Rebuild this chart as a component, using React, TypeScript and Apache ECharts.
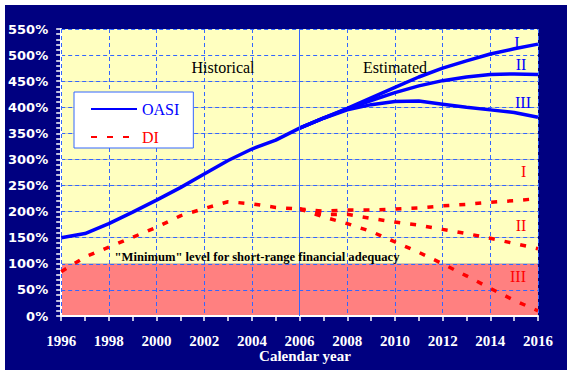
import React, { useEffect, useRef } from "react";
import * as echarts from "echarts";

// ---- data ----
const histYears = [1996, 1997, 1998, 1999, 2000, 2001, 2002, 2003, 2004, 2005, 2006];
const oasiHist = [150, 158, 177, 199, 222, 246, 272, 298, 320, 337, 360];
const diHist = [85, 113, 132, 151, 170, 192, 206, 219, 215, 208, 205];

const projYears = [2006, 2007, 2008, 2009, 2010, 2011, 2012, 2013, 2014, 2015, 2016];
const oasiI = [360, 379, 398, 418, 438, 458, 475, 489, 502, 512, 521];
const oasiII = [360, 379, 397, 413, 428, 441, 451, 458, 463, 464, 463];
const oasiIII = [360, 379, 395, 405, 411, 412, 406, 400, 395, 390, 381];
const diI = [205, 201, 203, 203, 205, 207, 211, 214, 218, 221, 225];
const diII = [205, 194, 195, 187, 180, 174, 166, 158, 149, 139, 129];
const diIII = [205, 190, 177, 162, 142, 122, 100, 77, 53, 30, 10];

const yTickMax = 550;
const yTickStep = 50;
const minimumLevel = 100;
const boundaryYear = 2006;

const pair = (xs: number[], ys: number[]) => xs.map((x, i) => [x, ys[i]]);

const BLUE = "#0000FF";
const RED = "#FF0000";
const GRID = "#3366FF";
const SERIF = "Liberation Serif";

export default function App() {
  const ref = useRef<HTMLDivElement>(null);

  useEffect(() => {
    if (!ref.current) return;
    const chart = echarts.init(ref.current, undefined, { renderer: "svg" });

    const nBands = yTickMax / yTickStep;
    const bandColors: string[] = [];
    for (let i = 0; i < nBands; i++) {
      bandColors.push((i + 1) * yTickStep <= minimumLevel ? "#FF8080" : "#FFFFC0");
    }

    const oasiLine = (name: string, data: number[][], extra: any = {}) => ({
      type: "line",
      name,
      data,
      symbol: "none",
      lineStyle: { color: BLUE, width: 3.5 },
      itemStyle: { color: BLUE },
      z: 3,
      ...extra,
    });
    const diLine = (name: string, data: number[][]) => ({
      type: "line",
      name,
      data,
      symbol: "none",
      lineStyle: { color: RED, width: 3.5, type: [6, 10] },
      itemStyle: { color: RED },
      z: 3,
    });

    const txt = (text: string, fill: string, size: number, weight: string, extra: any) => ({
      type: "text",
      z: 10,
      ...extra,
      style: {
        text,
        fill,
        fontFamily: SERIF,
        fontSize: size,
        fontWeight: weight,
        align: "center",
        verticalAlign: "middle",
      },
    });

    chart.setOption({
      animation: false,
      backgroundColor: "#000080",
      grid: { left: 54, top: 24, right: 29, bottom: 54, show: false },
      xAxis: {
        type: "value",
        min: 1996,
        max: 2016,
        interval: 2,
        z: 1,
        axisLine: { show: true, lineStyle: { color: "#FFFFFF", width: 2 } },
        axisTick: { show: true, length: 5, lineStyle: { color: "#FFFFFF", width: 1.5 } },
        minorTick: { show: true, splitNumber: 2, length: 5, lineStyle: { color: "#FFFFFF", width: 1.5 } },
        axisLabel: {
          color: "#FFFFFF",
          fontFamily: SERIF,
          fontWeight: "bold",
          fontSize: 15,
          margin: 17,
          formatter: (v: number) => String(v),
        },
        splitLine: { show: true, lineStyle: { color: GRID, width: 1, type: [4, 3] } },
      },
      yAxis: {
        type: "value",
        min: 0,
        max: yTickMax,
        interval: yTickStep,
        axisLine: { show: true, lineStyle: { color: "#FFFFFF", width: 2 } },
        axisTick: { show: true, length: 5, lineStyle: { color: "#FFFFFF", width: 1.5 } },
        minorTick: { show: true, splitNumber: 5, length: 5, lineStyle: { color: "#FFFFFF", width: 1.5 } },
        axisLabel: {
          color: "#FFFFFF",
          fontFamily: "DejaVu Sans",
          fontWeight: "bold",
          fontSize: 13,
          margin: 13,
          formatter: (v: number) => v + "%",
        },
        splitLine: { show: true, lineStyle: { color: GRID, width: 1, type: [4, 3] } },
        splitArea: { show: true, areaStyle: { color: bandColors, opacity: 1 } },
      },
      legend: {
        orient: "vertical",
        left: 69,
        top: 87,
        backgroundColor: "#FFFFFF",
        borderColor: GRID,
        borderWidth: 1,
        borderRadius: 0,
        padding: [9, 14, 3, 16],
        itemGap: 12,
        itemWidth: 46,
        itemHeight: 16,
        itemStyle: { opacity: 0 },
        textStyle: { fontFamily: SERIF, fontSize: 16 },
        data: [
          { name: "OASI", textStyle: { color: BLUE } },
          { name: "DI", textStyle: { color: RED } },
        ],
      },
      series: [
        oasiLine("OASI", pair(histYears, oasiHist), {
          markLine: {
            silent: true,
            symbol: "none",
            label: { show: false },
            lineStyle: { color: GRID, width: 1, type: "solid", opacity: 1 },
            data: [{ xAxis: boundaryYear }],
          },
        }),
        oasiLine("OASI", pair(projYears, oasiI)),
        oasiLine("OASI", pair(projYears, oasiII)),
        oasiLine("OASI", pair(projYears, oasiIII)),
        diLine("DI", pair(histYears, diHist)),
        diLine("DI", pair(projYears, diI)),
        diLine("DI", pair(projYears, diII)),
        diLine("DI", pair(projYears, diIII)),
      ],
      graphic: [
        txt("Historical", "#000000", 16, "normal", { x: 218, y: 62 }),
        txt("Estimated", "#000000", 16, "normal", { x: 390, y: 62 }),
        txt('"Minimum" level for short-range financial adequacy', "#000000", 12.6, "bold", { x: 252, y: 251.5 }),
        txt("Calendar year", "#FFFFFF", 15, "bold", { x: 300, y: 351 }),
        txt("I", BLUE, 16, "normal", { x: 512, y: 37 }),
        txt("II", BLUE, 16, "normal", { x: 516, y: 59.5 }),
        txt("III", BLUE, 16, "normal", { x: 518, y: 97 }),
        txt("I", RED, 16, "normal", { x: 518.7, y: 166 }),
        txt("II", RED, 16, "normal", { x: 516, y: 220.5 }),
        txt("III", RED, 16, "normal", { x: 513, y: 271.5 }),
      ],
    });

    return () => chart.dispose();
  }, []);

  return (
    <div style={{ position: "absolute", left: 0, top: 0, width: 573, height: 376, background: "#FFFFFF" }}>
      <div ref={ref} style={{ position: "absolute", left: 5, top: 5, width: 562, height: 365 }} />
    </div>
  );
}
